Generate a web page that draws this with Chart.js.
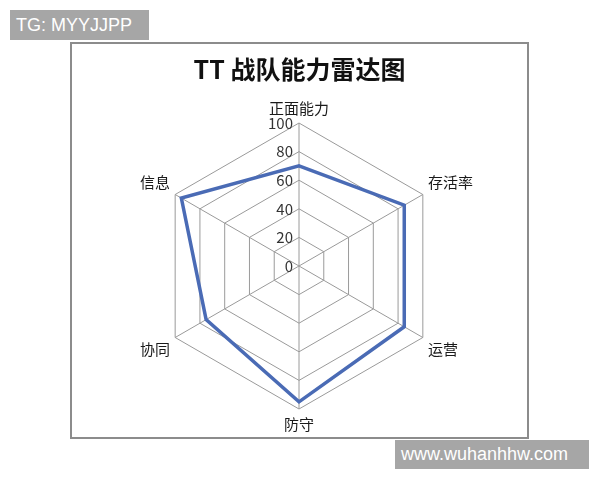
<!DOCTYPE html>
<html>
<head>
<meta charset="utf-8">
<script src="https://cdn.jsdelivr.net/npm/chart.js@4"></script>
<style>
  body { margin: 0; background: #fff; width: 600px; height: 480px; position: relative; overflow: hidden; }
  #frame {
    position: absolute; left: 70px; top: 42px;
    width: 455px; height: 393px;
    border: 2px solid #8c8c8c;
  }
  .mark {
    position: absolute; background: #a6a6a6; color: #fff;
    font-family: "Liberation Sans", Arial, sans-serif; font-size: 18px;
    line-height: 30px; padding-left: 6px; box-sizing: border-box;
  }
  #tg  { left: 10px;  top: 10px;  width: 139px; height: 30px; }
  #web { left: 395px; top: 440px; width: 194px; height: 29px; line-height: 29px; }
</style>
</head>
<body>
<div id="frame"><canvas id="chartRadar" width="455" height="393"></canvas></div>
<div class="mark" id="tg">TG: MYYJJPP</div>
<div class="mark" id="web">www.wuhanhhw.com</div>
<script>
/* ── DATA ── */
const axisLabels = ['正面能力', '存活率', '运营', '防守', '协同', '信息'];
const teamScores = [70, 85, 85, 95, 75, 95];
const tickValues = [0, 20, 40, 60, 80, 100];

const CJK = '"Noto Sans CJK SC", "Noto Sans", sans-serif';

/* tick labels drawn left of the vertical axis (incl. 0) */
const tickLabelPlugin = {
  id: 'tickLabels',
  afterDraw(chart) {
    const s   = chart.scales.r;
    const ctx = chart.ctx;
    ctx.save();
    ctx.font = '15px ' + CJK;
    ctx.fillStyle = '#333';
    ctx.textAlign = 'right';
    ctx.textBaseline = 'middle';
    tickValues.forEach(v => {
      ctx.fillText(String(v), s.xCenter - 6, s.yCenter - s.getDistanceFromCenterForValue(v));
    });
    ctx.restore();
  }
};

new Chart(document.getElementById('chartRadar'), {
  type: 'radar',
  data: {
    labels: axisLabels,
    datasets: [{
      data:            teamScores,
      borderColor:     '#4a6bb5',
      borderWidth:     3.5,
      backgroundColor: 'rgba(0,0,0,0)',
      fill:            false,
      pointRadius:     0,
      tension:         0
    }]
  },
  options: {
    responsive: false,
    animation: false,
    layout: { padding: { top: 0, bottom: 4, left: 0, right: 0 } },
    plugins: {
      legend:  { display: false },
      tooltip: { enabled: false },
      title: {
        display: true,
        text: 'TT 战队能力雷达图',
        color: '#111',
        font: { family: CJK, size: 25, weight: 'bold' },
        padding: { top: 10, bottom: 15 }
      }
    },
    scales: {
      r: {
        min: 0,
        max: 100,
        ticks: { stepSize: 20, display: false },
        grid:       { color: '#9a9a9a', lineWidth: 1 },
        angleLines: { color: '#9a9a9a', lineWidth: 1 },
        pointLabels: {
          color: '#1a1a1a',
          font: { family: CJK, size: 15 },
          padding: 6
        }
      }
    }
  },
  plugins: [tickLabelPlugin]
});
</script>
</body>
</html>
